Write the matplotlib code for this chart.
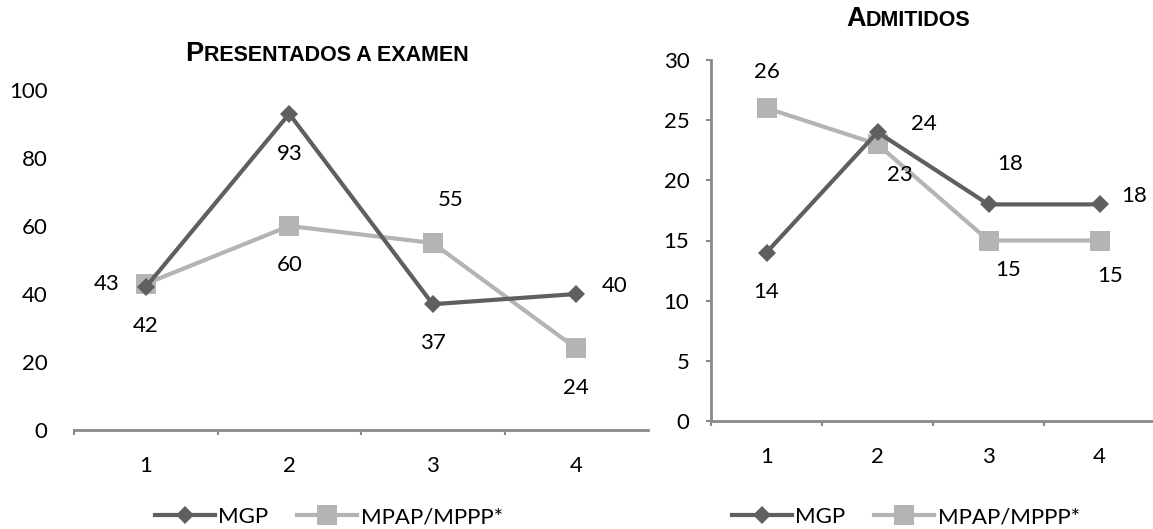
import matplotlib
matplotlib.use("Agg")
import matplotlib.pyplot as plt
from matplotlib.offsetbox import TextArea, HPacker, AnnotationBbox

plt.rcParams['font.family'] = ['Lato', 'DejaVu Sans']

# data
categorias = [1, 2, 3, 4]
pres_mgp = [42, 93, 37, 40]
pres_mpap = [43, 60, 55, 24]
adm_mgp = [14, 24, 18, 18]
adm_mpap = [26, 23, 15, 15]
series_names = ["MGP", "MPAP/MPPP*"]

# label offsets in pixels (Excel-like placement)
off_pres_mgp = [(0, -39), (0, -40), (0, -39), (38, 8)]
off_pres_mpap = [(-39, 0), (0, -39), (18, 43), (0, -40)]
off_adm_mgp = [(0, -39), (46, 8), (22, 40), (35, 8)]
off_adm_mpap = [(0, 36), (22, -31), (20, -29), (11, -35)]

W, H = 1153, 529
fig = plt.figure(figsize=(W / 100, H / 100), dpi=100)

dark = "#5f5f5f"
light = "#b4b4b4"
axis_col = "#8a8a8a"
fs = 16


def draw(ax, y1, y2, o1, o2):
    ax.plot(categorias, y1, color=dark, lw=3, marker="D", ms=9.5, mew=0,
            clip_on=False, zorder=3, label=series_names[0])
    ax.plot(categorias, y2, color=light, lw=3, marker="s", ms=14, mew=0,
            clip_on=False, zorder=2, label=series_names[1])
    for x, v, o in zip(categorias, y1, o1):
        ax.annotate(str(v), (x, v), xytext=o, textcoords="offset pixels",
                    ha="center", va="center", fontsize=fs, color="black")
    for x, v, o in zip(categorias, y2, o2):
        ax.annotate(str(v), (x, v), xytext=o, textcoords="offset pixels",
                    ha="center", va="center", fontsize=fs, color="black")
    ax.set_xlim(0.5, 4.5)
    ax.set_xticks([0.5, 1.5, 2.5, 3.5], minor=False)
    ax.set_xticks(categorias, minor=True)
    ax.set_xticklabels([], minor=False)
    ax.set_xticklabels([str(c) for c in categorias], minor=True)
    ax.tick_params(axis="x", which="major", length=3.6, width=1.5, color=axis_col)
    ax.tick_params(axis="x", which="minor", length=0, pad=19, labelsize=fs)
    for s in ["top", "right"]:
        ax.spines[s].set_visible(False)
    ax.spines["bottom"].set_color(axis_col)
    ax.spines["bottom"].set_linewidth(2)
    ax.patch.set_alpha(0)


def smallcaps(first, rest, x, y):
    box = HPacker(children=[
        TextArea(first, textprops=dict(size=19.5, weight="bold", family="Liberation Sans")),
        TextArea(rest, textprops=dict(size=15.5, weight="bold", family="Liberation Sans")),
    ], align="baseline", pad=0, sep=0)
    ab = AnnotationBbox(box, (x, H - y), xycoords="figure pixels", frameon=False,
                        box_alignment=(0.5, 0.5))
    fig.add_artist(ab)


# left chart: Presentados a examen
ax1 = fig.add_axes([74 / W, (H - 430) / H, (648 - 74) / W, 340 / H])
draw(ax1, pres_mgp, pres_mpap, off_pres_mgp, off_pres_mpap)
ax1.set_ylim(0, 100)
ax1.set_yticks(range(0, 101, 20))
ax1.spines["left"].set_visible(False)
ax1.tick_params(axis="y", length=0, pad=19, labelsize=fs)
smallcaps("P", "RESENTADOS A EXAMEN", 327, 54)

# right chart: Admitidos
ax2 = fig.add_axes([711 / W, (H - 421) / H, 444 / W, 361 / H])
draw(ax2, adm_mgp, adm_mpap, off_adm_mgp, off_adm_mpap)
ax2.set_ylim(0, 30)
ax2.set_yticks(range(0, 31, 5))
ax2.spines["left"].set_color(axis_col)
ax2.spines["left"].set_linewidth(2)
ax2.tick_params(axis="y", length=3.6, width=1.5, color=axis_col, pad=12, labelsize=fs)
smallcaps("A", "DMITIDOS", 908, 19)

for ax, cx in [(ax1, 329), (ax2, 906)]:
    h, l = ax.get_legend_handles_labels()
    fig.legend(h, l, loc="center", bbox_to_anchor=(cx / W, 12 / H), ncol=2,
               frameon=False, fontsize=fs, handlelength=2.7, handletextpad=0.15,
               columnspacing=1.3, borderaxespad=0, borderpad=0)

fig.savefig("out.png", dpi=100)
